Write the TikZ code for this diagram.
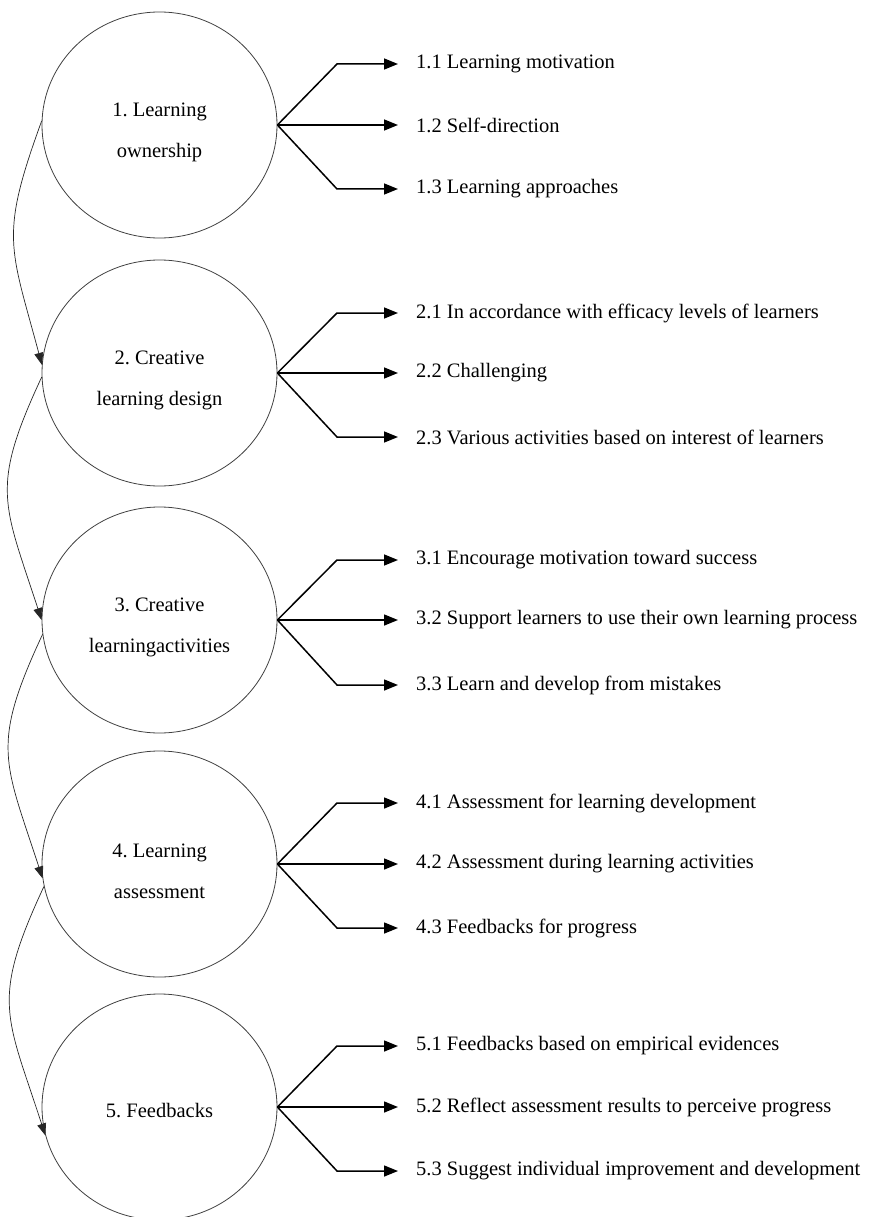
\documentclass[tikz,border=0pt]{standalone}
\usepackage{fontspec}
\setmainfont{Liberation Serif}
\usetikzlibrary{shapes.geometric,arrows.meta}
\frenchspacing

\begin{document}
\begin{tikzpicture}[x=1pt,y=1pt,
  stage/.style={ellipse,draw=black!75,line width=0.8pt,minimum width=235pt,minimum height=226pt,inner sep=0pt},
  stagetext/.style={align=center,inner sep=0pt,font=\fontsize{20.5}{41}\selectfont},
  item/.style={anchor=west,inner sep=3pt,font=\fontsize{20.5}{24}\selectfont},
  branch/.style={line width=1.5pt,-{Triangle[length=14pt,width=11pt]},shorten >=15pt},
  flow/.style={line width=0.7pt,black!85,-{Triangle[length=12pt,width=9pt]}}]
\useasboundingbox (0,0) rectangle (877,-1217);

% stages
\node[stage] (c1) at (159.5,-125) {};
\node[stage] (c2) at (159.5,-373) {};
\node[stage] (c3) at (159.5,-620) {};
\node[stage] (c4) at (159.5,-864) {};
\node[stage] (c5) at (159.5,-1107) {};
\node[stagetext] (l1) at ([yshift=-7pt]c1) {1. Learning\\ownership};
\node[stagetext] (l2) at ([yshift=-7pt]c2) {2. Creative\\learning design};
\node[stagetext] (l3) at ([yshift=-7pt]c3) {3. Creative\\learningactivities};
\node[stagetext] (l4) at ([yshift=-7pt]c4) {4. Learning\\assessment};
\node[stagetext] (l5) at ([yshift=-4pt]c5) {5. Feedbacks};

% items
\node[item] (t11) at (413,-64) {1.1 Learning motivation};
\node[item] (t12) at (413,-125) {1.2 Self-direction};
\node[item] (t13) at (413,-189) {1.3 Learning approaches};
\node[item] (t21) at (413,-313) {2.1 In accordance with efficacy levels of learners};
\node[item] (t22) at (413,-373) {2.2 Challenging};
\node[item] (t23) at (413,-437) {2.3 Various activities based on interest of learners};
\node[item] (t31) at (413,-560) {3.1 Encourage motivation toward success};
\node[item] (t32) at (413,-620) {3.2 Support learners to use their own learning process};
\node[item] (t33) at (413,-685) {3.3 Learn and develop from mistakes};
\node[item] (t41) at (413,-803) {4.1 Assessment for learning development};
\node[item] (t42) at (413,-864) {4.2 Assessment during learning activities};
\node[item] (t43) at (413,-928) {4.3 Feedbacks for progress};
\node[item] (t51) at (413,-1046) {5.1 Feedbacks based on empirical evidences};
\node[item] (t52) at (413,-1107) {5.2 Reflect assessment results to perceive progress};
\node[item] (t53) at (413,-1171) {5.3 Suggest individual improvement and development};

% branches
\draw[branch] (c1.east) -- ([xshift=-76pt]t11.west) -- (t11.west);
\draw[branch] (c1.east) -- (t12.west);
\draw[branch] (c1.east) -- ([xshift=-76pt]t13.west) -- (t13.west);
\draw[branch] (c2.east) -- ([xshift=-76pt]t21.west) -- (t21.west);
\draw[branch] (c2.east) -- (t22.west);
\draw[branch] (c2.east) -- ([xshift=-76pt]t23.west) -- (t23.west);
\draw[branch] (c3.east) -- ([xshift=-76pt]t31.west) -- (t31.west);
\draw[branch] (c3.east) -- (t32.west);
\draw[branch] (c3.east) -- ([xshift=-76pt]t33.west) -- (t33.west);
\draw[branch] (c4.east) -- ([xshift=-76pt]t41.west) -- (t41.west);
\draw[branch] (c4.east) -- (t42.west);
\draw[branch] (c4.east) -- ([xshift=-76pt]t43.west) -- (t43.west);
\draw[branch] (c5.east) -- ([xshift=-76pt]t51.west) -- (t51.west);
\draw[branch] (c5.east) -- (t52.west);
\draw[branch] (c5.east) -- ([xshift=-76pt]t53.west) -- (t53.west);

% flow between stages
\draw[flow] (c1.178) to[out=250,in=105,looseness=1.3] (c2.176);
\draw[flow] (c2.182) to[out=245,in=108,looseness=1.3] (c3.180);
\draw[flow] (c3.187) to[out=245,in=108,looseness=1.3] (c4.187);
\draw[flow] (c4.191) to[out=245,in=108,looseness=1.3] (c5.194);
\end{tikzpicture}
\end{document}
